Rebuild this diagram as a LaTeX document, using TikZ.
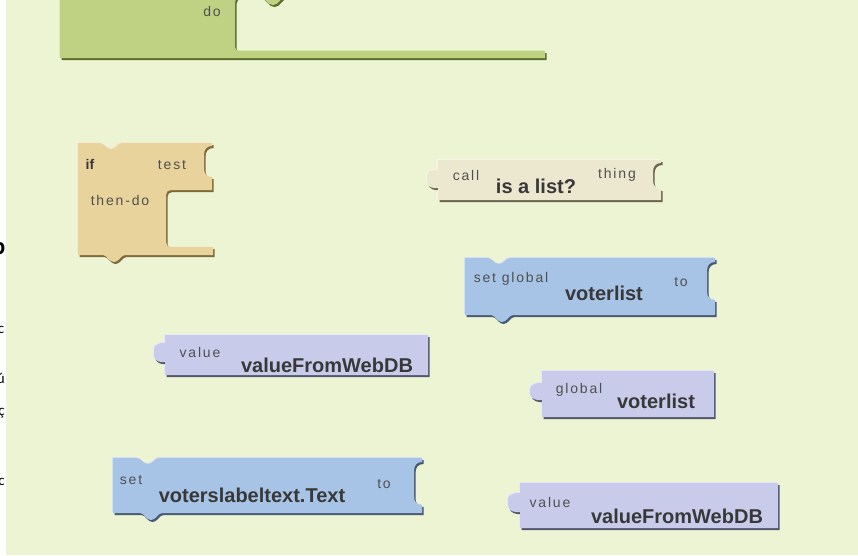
\documentclass[tikz,border=0pt]{standalone}
\usepackage{fontspec}
\setmainfont{Liberation Sans}
\newfontfamily\lblfont[LetterSpace=13]{Liberation Sans}
\newfontfamily\edgefont{Carlito}
\definecolor{bg}{HTML}{EDF4D4}
\definecolor{grnF}{HTML}{BFD283}
\definecolor{grnS}{HTML}{5B6D2C}
\definecolor{grnH}{HTML}{DCE9B0}
\definecolor{tanF}{HTML}{E7D39B}
\definecolor{tanS}{HTML}{7D6B3C}
\definecolor{tanH}{HTML}{F5EACB}
\definecolor{begF}{HTML}{ECE7CF}
\definecolor{begS}{HTML}{6A6450}
\definecolor{begH}{HTML}{F8F5EA}
\definecolor{bluF}{HTML}{A7C4E6}
\definecolor{bluS}{HTML}{485A72}
\definecolor{bluH}{HTML}{D2E2F4}
\definecolor{lavF}{HTML}{C8CCEA}
\definecolor{lavS}{HTML}{50566C}
\definecolor{lavH}{HTML}{E6E8F7}
\definecolor{txtS}{HTML}{505050}
\definecolor{txtB}{HTML}{383838}
\begin{document}
\begin{tikzpicture}[x=1pt,y=-1pt,
  lbl/.style={text=txtS, inner sep=0pt, font=\lblfont\fontsize{14}{16}\selectfont},
  big/.style={text=txtB, inner sep=0pt, font=\fontsize{20}{22}\selectfont\bfseries},
  edge/.style={text=black, inner sep=0pt, anchor=base east, font=\edgefont\fontsize{15}{17}\selectfont},
  hl/.style={preaction={fill=#1, transform canvas={shift={(-0.8pt,0.8pt)}}}},
  block/.style 2 args={fill=#1, preaction={fill=#2, transform canvas={shift={(1.5pt,-2pt)}}}},
]
\useasboundingbox (0,0) rectangle (858,555);
\fill[white] (0,0) rectangle (6,555);
\fill[bg] (6,0) rectangle (858,555);
% clipped glyphs of the page behind, at the left edge
\begin{scope}
\clip (0,0) rectangle (6,555);
\node[edge, font=\edgefont\fontsize{24}{26}\selectfont\bfseries] (e1) at (5.5,254) {p};
\node[edge] (e2) at (4.5,333) {c};
\node[edge] (e3) at (5,383) {ú};
\node[edge] (e4) at (5,415) {ç};
\node[edge] (e5) at (5,485) {c};
\end{scope}
\begin{scope}
\clip (6,0) rectangle (858,555);
% green procedure block (top, cut off)
\path[hl=grnH, block={grnF}{grnS}] (60,-30) -- (545,-30) -- (545,-3) -- (285,-3)
  .. controls (281,-3) and (279,5) .. (273,5) .. controls (267,5) and (265,-3) .. (261,-3)
  -- (240,-3) .. controls (237,-3) and (235,-1) .. (235,2) -- (235,47)
  .. controls (235,50) and (237,51) .. (240,51) -- (545,51) -- (545,58) -- (60,58) -- cycle;
% if block
\path[hl=tanH, block={tanF}{tanS}] (78,143) -- (100,143)
  .. controls (104,143) and (106,149) .. (111,149) .. controls (116,149) and (118,143) .. (122,143)
  -- (212,143) -- (212,146) .. controls (207,146) and (204,149) .. (204,155) -- (204,168)
  .. controls (204,174) and (207,177) .. (212,177) -- (212,190) -- (171,190)
  .. controls (168,190) and (166,192) .. (166,195) -- (166,242)
  .. controls (166,245) and (168,247) .. (171,247) -- (213,247) -- (213,255) -- (125,255)
  .. controls (121,255) and (119,262) .. (114,262) .. controls (109,262) and (107,255) .. (103,255)
  -- (78,255) -- cycle;
% call is a list?
\path[hl=begH, block={begF}{begS}] (438,160) -- (661,160) -- (661,163)
  .. controls (656,163) and (653,166) .. (653,172) -- (653,180)
  .. controls (653,186) and (656,189) .. (661,189) -- (661,200) -- (438,200) -- (438,188)
  .. controls (434,189) and (427,187) .. (427,182) -- (427,175)
  .. controls (427,171) and (433,169) .. (438,170) -- cycle;
% set global voterlist to
\path[hl=bluH, block={bluF}{bluS}] (465,258) -- (488,258)
  .. controls (492,258) and (494,264) .. (499,264) .. controls (504,264) and (506,258) .. (510,258)
  -- (715,258) -- (715,262) .. controls (710,262) and (707,265) .. (707,271) -- (707,291)
  .. controls (707,297) and (710,300) .. (715,300) -- (715,315) -- (513,315)
  .. controls (509,315) and (507,322) .. (502,322) .. controls (497,322) and (495,315) .. (491,315)
  -- (465,315) -- cycle;
% value valueFromWebDB (1)
\path[hl=lavH, block={lavF}{lavS}] (165,335) -- (428,335) -- (428,375) -- (165,375) -- (165,362)
  .. controls (161,363) and (154,361) .. (154,356) -- (154,349)
  .. controls (154,345) and (160,342) .. (165,343) -- cycle;
% global voterlist
\path[hl=lavH, block={lavF}{lavS}] (542,371) -- (714,371) -- (714,417) -- (542,417) -- (542,400)
  .. controls (538,401) and (530,399) .. (530,394) -- (530,389)
  .. controls (530,385) and (537,382) .. (542,383) -- cycle;
% set voterslabeltext.Text to
\path[hl=bluH, block={bluF}{bluS}] (113,458) -- (137,458)
  .. controls (141,458) and (143,464) .. (148,464) .. controls (153,464) and (155,458) .. (159,458)
  -- (422,458) -- (422,462) .. controls (417,462) and (414,465) .. (414,471) -- (414,496)
  .. controls (414,502) and (417,505) .. (422,505) -- (422,513) -- (162,513)
  .. controls (158,513) and (156,520) .. (151,520) .. controls (146,520) and (144,513) .. (140,513)
  -- (113,513) -- cycle;
% value valueFromWebDB (2)
\path[hl=lavH, block={lavF}{lavS}] (520,483) -- (778,483) -- (778,528) -- (520,528) -- (520,512)
  .. controls (516,513) and (508,511) .. (508,506) -- (508,499)
  .. controls (508,495) and (515,492) .. (520,493) -- cycle;
\end{scope}
% labels
\node[lbl] (do) at (212,11) {do};
\node[text=txtB, inner sep=0pt, font=\fontsize{14}{16}\selectfont\bfseries] (if) at (90,164) {if};
\node[lbl] (test) at (172,165) {test};
\node[lbl] (thendo) at (120,200) {then-do};
\node[lbl] (call) at (466,175) {call};
\node[big] (isalist) at (536,186) {is a list?};
\node[lbl] (thing) at (617,175) {thing};
\node[lbl] (setglobal) at (511,279) {set global};
\node[big] (voterlistA) at (604,293) {voterlist};
\node[lbl] (toA) at (681,282) {to};
\node[lbl] (valueA) at (200,352) {value};
\node[big] (webA) at (327,365) {valueFromWebDB};
\node[lbl] (global) at (579,390) {global};
\node[big] (voterlistB) at (656,401) {voterlist};
\node[lbl] (set) at (131,480) {set};
\node[big] (labeltext) at (252,495) {voterslabeltext.Text};
\node[lbl] (toB) at (384,484) {to};
\node[lbl] (valueB) at (550,502) {value};
\node[big] (webB) at (677,516) {valueFromWebDB};
\end{tikzpicture}
\end{document}
